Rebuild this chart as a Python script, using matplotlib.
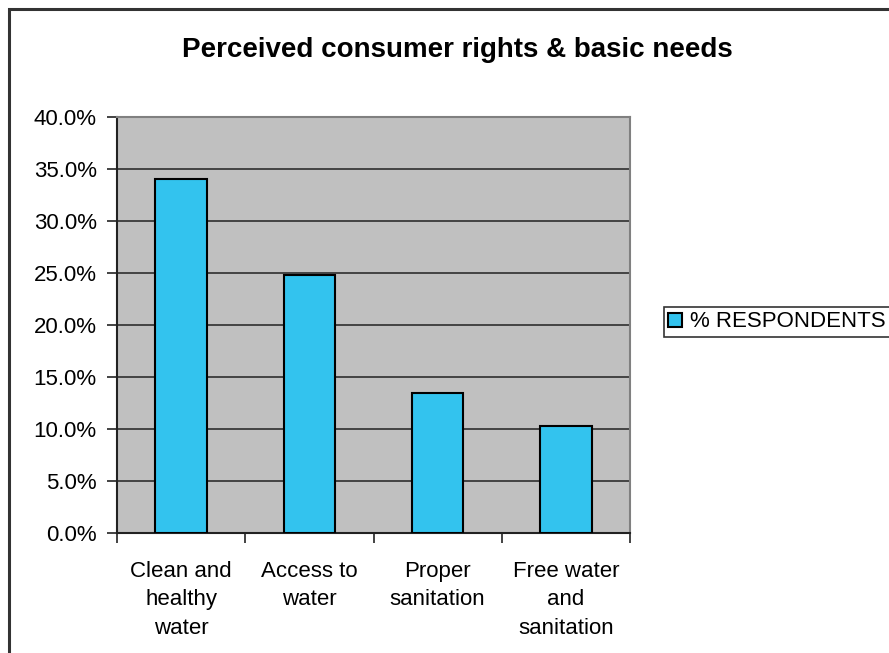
import matplotlib
matplotlib.use("Agg")
import matplotlib.pyplot as plt
from matplotlib.patches import Rectangle
from matplotlib.ticker import MultipleLocator, FuncFormatter

categories = ["Clean and\nhealthy\nwater", "Access to\nwater", "Proper\nsanitation",
              "Free water\nand\nsanitation"]
values = [34.0, 24.8, 13.5, 10.3]
series_name = "% RESPONDENTS"
title = "Perceived consumer rights & basic needs"

plt.rcParams["font.family"] = ["Liberation Sans", "DejaVu Sans"]

W, H = 889, 653
fig = plt.figure(figsize=(W / 100, H / 100), dpi=100)

# outer chart frame
fig.patches.append(Rectangle((9 / W, -0.05), 1.1, 1 - 9 / H + 0.05,
                             transform=fig.transFigure, fill=False,
                             edgecolor="#333333", linewidth=2.2, zorder=0))

ax = fig.add_axes([117 / W, 1 - 533 / H, (630 - 117) / W, (533 - 117) / H])
ax.set_facecolor("#C0C0C0")

x = list(range(len(values)))
bars = ax.bar(x, values, width=0.4, color="#33C3EE", edgecolor="black",
              linewidth=1.5, label=series_name, zorder=3)

ax.set_xlim(-0.5, len(values) - 0.5)
ax.set_ylim(0, 40)
ax.yaxis.set_major_locator(MultipleLocator(5))
ax.yaxis.set_major_formatter(FuncFormatter(lambda v, p: f"{v:.1f}%"))
ax.grid(axis="y", color="#222222", linewidth=1.1, zorder=1)
ax.set_axisbelow(True)

ax.set_xticks(x)
ax.set_xticklabels(categories, linespacing=1.48)
ax.set_xticks([i - 0.5 for i in range(len(values) + 1)], minor=True)
ax.tick_params(axis="x", which="major", length=0, pad=20, labelsize=16)
ax.tick_params(axis="x", which="minor", length=7, width=1.2, color="#222222")
ax.tick_params(axis="y", length=7, width=1.2, color="#222222", pad=7.5, labelsize=16)

for side in ("left", "bottom"):
    ax.spines[side].set_color("#222222")
    ax.spines[side].set_linewidth(1.5)
for side in ("top", "right"):
    ax.spines[side].set_color("#808080")
    ax.spines[side].set_linewidth(1.5)

fig.text(457 / W, 1 - 57 / H, title, ha="center", va="baseline",
         fontsize=20, fontweight="bold")

leg = fig.legend(handles=[bars], labels=[series_name], loc="upper left",
                 bbox_to_anchor=(664 / W, 1 - 307 / H), fontsize=16,
                 frameon=True, fancybox=False, borderpad=0.2,
                 handlelength=0.6, handleheight=0.6, handletextpad=0.35,
                 borderaxespad=0)
leg.get_frame().set_edgecolor("black")
leg.get_frame().set_linewidth(1.2)

fig.savefig("out.png", dpi=100)
